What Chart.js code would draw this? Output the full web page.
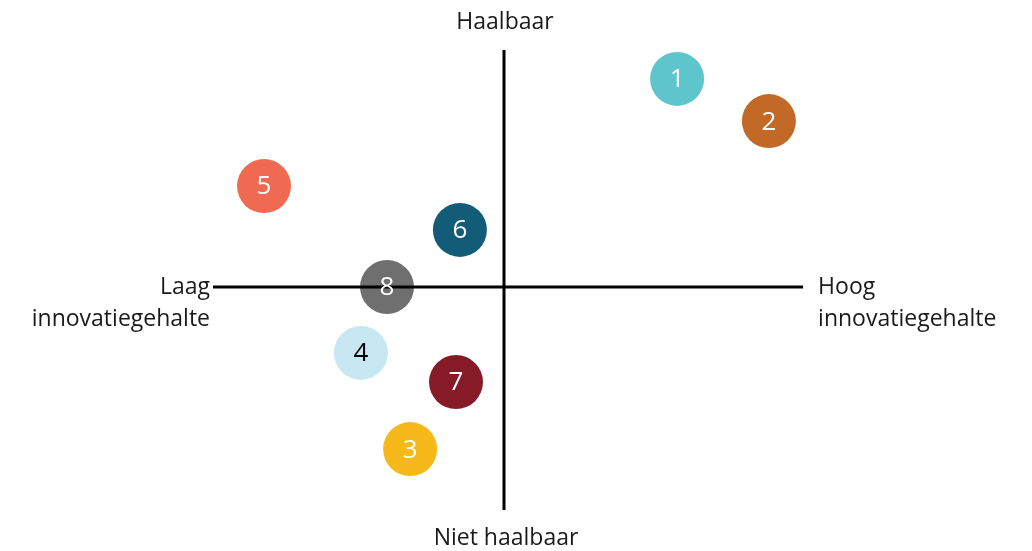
<!DOCTYPE html>
<html>
<head>
<meta charset="utf-8">
<script src="https://cdn.jsdelivr.net/npm/chart.js@4.4.1/dist/chart.umd.min.js"></script>
<style>
  html, body { margin: 0; padding: 0; background: #fff; }
  #wrap { width: 1032px; height: 551px; }
</style>
</head>
<body>
<div id="wrap"><canvas id="matrix"></canvas></div>
<script>
// projects on the feasibility / innovation matrix
const labels = ['1', '2', '3', '4', '5', '6', '7', '8'];
const xValues = [5.77, 8.83, -3.13, -4.77, -8.0, -1.47, -1.6, -3.9];
const yValues = [8.78, 7.0, -6.84, -2.78, 4.26, 2.41, -4.01, 0.0];
const colors = ['#5ec5cc', '#c36928', '#f7b819', '#c7e7f2', '#f06a52', '#125c78', '#861b27', '#6f6f70'];
const textColors = ['#fff', '#fff', '#fff', '#000', '#fff', '#fff', '#fff', '#fff'];

// axis lines (ends of the cross)
const hAxisX = [-9.7, 9.97];
const vAxisY = [10, -9.41];

const font = "'Open Sans', sans-serif";

// draws the numbers inside the circles and the axis captions
const annotations = {
  id: 'annotations',
  afterDatasetsDraw(chart) {
    const ctx = chart.ctx;
    const xs = chart.scales.x, ys = chart.scales.y;
    const meta = chart.getDatasetMeta(2);
    ctx.save();
    ctx.textAlign = 'center';
    ctx.textBaseline = 'middle';
    ctx.font = '26px ' + font;
    meta.data.forEach((pt, i) => {
      ctx.fillStyle = textColors[i];
      ctx.fillText(labels[i], pt.x, pt.y + 1);
    });

    ctx.fillStyle = '#1a1a1a';
    ctx.font = '23px ' + font;
    const cx = xs.getPixelForValue(0);
    ctx.fillText('Haalbaar', cx + 1, 22);
    ctx.fillText('Niet haalbaar', cx + 2, 538);

    const left = xs.getPixelForValue(hAxisX[0]);
    const right = xs.getPixelForValue(hAxisX[1]);
    const cy = ys.getPixelForValue(0);
    ctx.textAlign = 'right';
    ctx.fillText('Laag', left - 3, cy);
    ctx.fillText('innovatiegehalte', left - 3, cy + 32);
    ctx.textAlign = 'left';
    ctx.fillText('Hoog', right + 15, cy);
    ctx.fillText('innovatiegehalte', right + 15, cy + 32);
    ctx.restore();
  }
};

new Chart(document.getElementById('matrix'), {
  type: 'scatter',
  data: {
    datasets: [{
      type: 'line',
      data: hAxisX.map(x => ({ x: x, y: 0 })),
      borderColor: '#000',
      borderWidth: 3,
      pointRadius: 0
    }, {
      type: 'line',
      data: vAxisY.map(y => ({ x: 0, y: y })),
      borderColor: '#000',
      borderWidth: 3,
      pointRadius: 0
    }, {
      data: xValues.map((x, i) => ({ x: x, y: yValues[i] })),
      backgroundColor: colors,
      borderWidth: 0,
      pointRadius: 27,
      pointHoverRadius: 27
    }]
  },
  options: {
    responsive: true,
    maintainAspectRatio: false,
    animation: false,
    layout: { padding: { left: 204, right: 228, top: 50, bottom: 27 } },
    plugins: { legend: { display: false }, tooltip: { enabled: false } },
    scales: {
      x: { type: 'linear', min: -10, max: 10, display: false },
      y: { type: 'linear', min: -10, max: 10, display: false }
    }
  },
  plugins: [annotations]
});
</script>
</body>
</html>
